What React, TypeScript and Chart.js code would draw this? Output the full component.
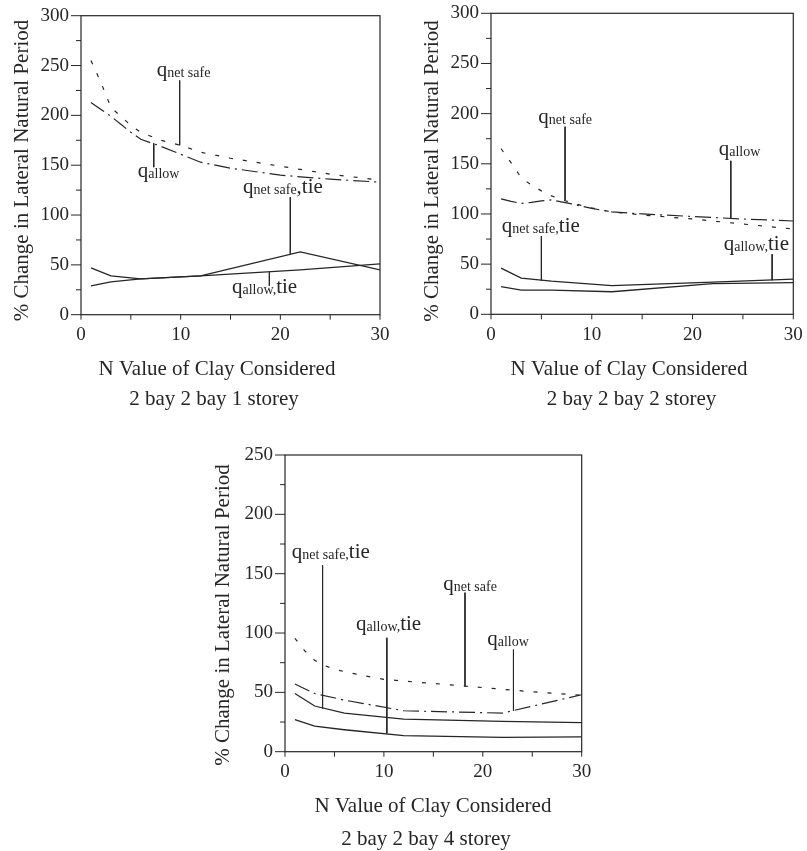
import React, { useEffect, useRef } from "react";
import { Chart, registerables } from "chart.js";

Chart.register(...registerables);

// ---- N values of clay (x) ----
const nCurve = [1, 2, 3, 4, 5, 6, 8, 10, 12, 15, 20, 25, 30];
const nTie = [1, 3, 6, 12, 22, 30];
const nAllow4 = [1, 3, 6, 12, 22, 23, 30];

// ---- % change in lateral natural period: 2 bay 2 bay 1 storey ----
const netSafe1 = [255, 233, 208, 199, 190, 183, 175, 170, 163, 157, 149, 141, 135];
const allow1 = [213, 206, 199, 191, 183, 176, 169, 161, 153, 147, 140, 136, 133];
const netSafeTie1 = [47, 39, 36, 39, 63, 45];
const allowTie1 = [29, 33, 36, 39, 45, 51];

// ---- 2 bay 2 bay 2 storey ----
const netSafe2 = [165, 151, 136, 129, 123, 118, 111, 106, 102, 99, 95, 90, 85];
const allow2 = [115, 112.5, 110.5, 111.5, 113, 114, 110, 105.5, 102, 100, 97.5, 95, 93];
const netSafeTie2 = [46, 36, 33, 28.5, 32, 35];
const allowTie2 = [27.5, 24, 24, 22.5, 30.5, 31.5];

// ---- 2 bay 2 bay 4 storey ----
const netSafe4 = [95.5, 85, 77, 72.5, 69.5, 67.5, 64, 61, 59.5, 57.5, 54, 50.5, 47.5];
const allow4 = [57, 49, 43.5, 34.5, 32.5, 34.5, 48];
const netSafeTie4 = [49, 38.5, 32.5, 27.5, 25.5, 24.5];
const allowTie4 = [27, 21.5, 18.5, 13.5, 12, 12.5];

// ---- curve labels (text parts alternate: normal, subscript, normal) ----
const labelText1 = [["q", "net safe"], ["q", "allow"], ["q", "net safe", ",tie"], ["q", "allow,", "tie"]];
const labelN1 = [7.6, 5.7, 16.25, 15.15];
const labelV1 = [240, 138.5, 122.5, 21.5];
const pointerN1 = [9.9, 7.3, 21, 18.9];
const pointerTop1 = [235, 172, 118, 42.5];
const pointerBottom1 = [170, 148, 61, 29];

const labelText2 = [["q", "net safe"], ["q", "allow"], ["q", "net safe,", "tie"], ["q", "allow,", "tie"]];
const labelN2 = [4.7, 22.6, 1.06, 23.1];
const labelV2 = [190.5, 159, 81.7, 64];
const pointerN2 = [7.35, 23.8, 5, 27.9];
const pointerTop2 = [187, 153, 78, 60];
const pointerBottom2 = [114, 96, 33.5, 34];

const labelText4 = [["q", "net safe,", "tie"], ["q", "allow,", "tie"], ["q", "net safe"], ["q", "allow"]];
const labelN4 = [0.68, 7.18, 16, 20.45];
const labelV4 = [163, 102.5, 136, 90];
const pointerN4 = [3.8, 10.3, 18.2, 23.1];
const pointerTop4 = [157, 96, 134, 86];
const pointerBottom4 = [36.5, 15.4, 55, 34.6];

const xTitle = "N Value of Clay Considered";
const yTitle = "% Change in Lateral Natural Period";

const INK = "#262626";
const SERIF = "'Liberation Serif', 'Times New Roman', Times, serif";

const pts = (xs: number[], ys: number[]) => xs.map((x, i) => ({ x, y: ys[i] }));

type PanelDef = {
  caption: string;
  left: number;
  top: number;
  width: number;
  height: number;
  plot: { l: number; r: number; t: number; b: number };
  yMax: number;
  yTitlePos: [number, number];
  xTitlePos: [number, number];
  captionPos: [number, number];
  netSafe: number[];
  allow: number[];
  allowN: number[];
  netSafeTie: number[];
  allowTie: number[];
  labelText: string[][];
  labelN: number[];
  labelV: number[];
  pointerN: number[];
  pointerTop: number[];
  pointerBottom: number[];
};

const panels: PanelDef[] = [
  {
    caption: "2 bay 2 bay 1 storey",
    left: 0, top: 0, width: 400, height: 420,
    plot: { l: 81, r: 380, t: 15.7, b: 314.7 },
    yMax: 300,
    yTitlePos: [22, 170.5],
    xTitlePos: [217, 375],
    captionPos: [214, 405],
    netSafe: netSafe1, allow: allow1, allowN: nCurve,
    netSafeTie: netSafeTie1, allowTie: allowTie1,
    labelText: labelText1, labelN: labelN1, labelV: labelV1,
    pointerN: pointerN1, pointerTop: pointerTop1, pointerBottom: pointerBottom1,
  },
  {
    caption: "2 bay 2 bay 2 storey",
    left: 400, top: 0, width: 407, height: 420,
    plot: { l: 91, r: 393.3, t: 13.3, b: 314.3 },
    yMax: 300,
    yTitlePos: [32.5, 171],
    xTitlePos: [229, 375],
    captionPos: [231.5, 405],
    netSafe: netSafe2, allow: allow2, allowN: nCurve,
    netSafeTie: netSafeTie2, allowTie: allowTie2,
    labelText: labelText2, labelN: labelN2, labelV: labelV2,
    pointerN: pointerN2, pointerTop: pointerTop2, pointerBottom: pointerBottom2,
  },
  {
    caption: "2 bay 2 bay 4 storey",
    left: 200, top: 420, width: 400, height: 431,
    plot: { l: 85, r: 381.7, t: 35, b: 331.7 },
    yMax: 250,
    yTitlePos: [23.5, 195],
    xTitlePos: [233, 392],
    captionPos: [226, 425],
    netSafe: netSafe4, allow: allow4, allowN: nAllow4,
    netSafeTie: netSafeTie4, allowTie: allowTie4,
    labelText: labelText4, labelN: labelN4, labelV: labelV4,
    pointerN: pointerN4, pointerTop: pointerTop4, pointerBottom: pointerBottom4,
  },
];

// Frame, tick marks, axis titles, caption and curve labels
const decorPlugin = {
  id: "decor",
  afterDraw(chart: any) {
    const p: PanelDef = chart.options.plugins.decor.panel;
    const { ctx, chartArea: a } = chart;
    const x = chart.scales.x;
    const y = chart.scales.y;
    ctx.save();
    ctx.strokeStyle = INK;
    ctx.lineWidth = 1.2;
    ctx.strokeRect(a.left, a.top, a.right - a.left, a.bottom - a.top);

    ctx.beginPath();
    ctx.lineWidth = 1;
    for (const t of y.ticks) {
      const py = y.getPixelForValue(t.value);
      const len = t.value % 50 === 0 ? 10 : 5;
      ctx.moveTo(a.left - len, py);
      ctx.lineTo(a.left, py);
    }
    for (const t of x.ticks) {
      const px = x.getPixelForValue(t.value);
      ctx.moveTo(px, a.bottom);
      ctx.lineTo(px, a.bottom + 5);
    }
    ctx.stroke();

    ctx.fillStyle = INK;
    // y title
    ctx.save();
    ctx.translate(p.yTitlePos[0], p.yTitlePos[1]);
    ctx.rotate(-Math.PI / 2);
    ctx.font = `21px ${SERIF}`;
    ctx.textAlign = "center";
    ctx.textBaseline = "middle";
    ctx.fillText(yTitle, 0, 0);
    ctx.restore();

    // x title and caption
    ctx.font = `21px ${SERIF}`;
    ctx.textAlign = "center";
    ctx.textBaseline = "alphabetic";
    ctx.fillText(xTitle, p.xTitlePos[0], p.xTitlePos[1]);
    ctx.fillText(p.caption, p.captionPos[0], p.captionPos[1]);

    // curve labels
    ctx.textAlign = "left";
    p.labelText.forEach((parts, i) => {
      let px = x.getPixelForValue(p.labelN[i]);
      const py = y.getPixelForValue(p.labelV[i]);
      parts.forEach((s, k) => {
        const sub = k % 2 === 1;
        ctx.font = sub ? `14px ${SERIF}` : `21px ${SERIF}`;
        ctx.fillText(s, px, py + (sub ? 1 : 0));
        px += ctx.measureText(s).width;
      });
    });
    ctx.restore();
  },
};

function Panel({ def }: { def: PanelDef }) {
  const ref = useRef<HTMLCanvasElement>(null);
  useEffect(() => {
    if (!ref.current) return;
    const p = def;
    const line = (data: any[], dash: number[], width: number) => ({
      data,
      borderColor: INK,
      borderWidth: width,
      borderDash: dash,
      pointRadius: 0,
      tension: 0,
      fill: false,
    });
    const pointers = p.pointerN.map((n, i) =>
      line(pts([n, n], [p.pointerTop[i], p.pointerBottom[i]]), [], 1)
    );
    // invisible tick marks reserve the gap between axis and labels
    const hiddenGrid = (len: number) => ({
      display: true,
      drawOnChartArea: false,
      drawTicks: true,
      tickLength: len,
      tickColor: "rgba(0,0,0,0)",
      color: "rgba(0,0,0,0)",
    });
    const chart = new Chart(ref.current, {
      type: "line",
      data: {
        datasets: [
          line(pts(nCurve, p.netSafe), [4, 10], 1.2),
          line(pts(p.allowN, p.allow), [16, 5, 2, 5], 1.2),
          line(pts(nTie, p.netSafeTie), [], 1.3),
          line(pts(nTie, p.allowTie), [], 1.3),
          ...pointers,
        ],
      },
      options: {
        responsive: false,
        animation: false,
        devicePixelRatio: 1,
        layout: { padding: { left: 0, top: p.plot.t, right: p.width - p.plot.r, bottom: 0 } },
        plugins: {
          legend: { display: false },
          tooltip: { enabled: false },
          title: { display: false },
          decor: { panel: p },
        } as any,
        scales: {
          x: {
            type: "linear",
            min: 0,
            max: 30,
            afterFit: (s: any) => { s.height = p.height - p.plot.b; },
            grid: hiddenGrid(9),
            border: { display: false },
            ticks: {
              stepSize: 5,
              padding: 0,
              autoSkip: false,
              maxRotation: 0,
              color: INK,
              font: { family: SERIF, size: 19 },
              callback: (v: any) => (Number(v) % 10 === 0 ? String(v) : ""),
            },
          },
          y: {
            type: "linear",
            min: 0,
            max: p.yMax,
            afterFit: (s: any) => { s.width = p.plot.l; },
            grid: hiddenGrid(12),
            border: { display: false },
            ticks: {
              stepSize: 25,
              padding: 0,
              autoSkip: false,
              color: INK,
              font: { family: SERIF, size: 19 },
              callback: (v: any) => (Number(v) % 50 === 0 ? String(v) : ""),
            },
          },
        },
      },
      plugins: [decorPlugin],
    });
    return () => chart.destroy();
  }, [def]);
  return (
    <canvas
      ref={ref}
      width={def.width}
      height={def.height}
      style={{ position: "absolute", left: def.left, top: def.top, width: def.width, height: def.height }}
    />
  );
}

export default function App() {
  return (
    <div style={{ position: "absolute", left: 0, top: 0, width: 807, height: 851, background: "#fff" }}>
      {panels.map((d) => (
        <Panel key={d.caption} def={d} />
      ))}
    </div>
  );
}
